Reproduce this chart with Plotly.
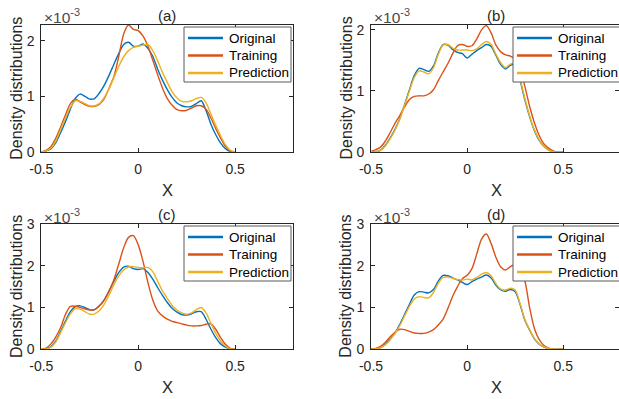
import plotly.graph_objects as go

# ---------------- data (density values in units of 1e-3) ----------------
x_grid = [-0.5, -0.475, -0.45, -0.425, -0.4, -0.375, -0.35, -0.325, -0.3, -0.275,
          -0.25, -0.225, -0.2, -0.175, -0.15, -0.125, -0.1, -0.075, -0.05, -0.025,
          0.0, 0.025, 0.05, 0.075, 0.1, 0.125, 0.15, 0.175, 0.2, 0.225,
          0.25, 0.275, 0.3, 0.325, 0.35, 0.375, 0.4, 0.425, 0.45, 0.475, 0.5]

series_names = ["Original", "Training", "Prediction"]
panel_titles = ["(a)", "(b)", "(c)", "(d)"]

a_original = [0, 0.02, 0.06, 0.17, 0.35, 0.55, 0.77, 0.96, 1.04, 1.00,
              0.95, 0.96, 1.06, 1.20, 1.38, 1.58, 1.77, 1.93, 1.97, 1.90,
              1.90, 1.94, 1.86, 1.72, 1.49, 1.29, 1.12, 0.98, 0.88, 0.83,
              0.81, 0.82, 0.87, 0.92, 0.74, 0.50, 0.31, 0.16, 0.06, 0.01, 0]
a_training = [0, 0.03, 0.10, 0.25, 0.45, 0.67, 0.87, 0.95, 0.90, 0.85,
              0.82, 0.82, 0.86, 0.96, 1.15, 1.36, 1.72, 2.12, 2.28, 2.20,
              2.18, 2.08, 1.90, 1.65, 1.39, 1.15, 0.96, 0.84, 0.76, 0.74,
              0.75, 0.79, 0.83, 0.83, 0.77, 0.61, 0.42, 0.25, 0.10, 0.02, 0]
a_prediction = [0, 0.02, 0.07, 0.20, 0.40, 0.61, 0.80, 0.92, 0.91, 0.87,
                0.83, 0.83, 0.87, 0.98, 1.14, 1.34, 1.54, 1.71, 1.82, 1.88,
                1.90, 1.92, 1.93, 1.82, 1.64, 1.43, 1.25, 1.08, 0.97, 0.91,
                0.90, 0.92, 0.96, 0.98, 0.88, 0.68, 0.48, 0.29, 0.13, 0.03, 0]

b_original = [0, 0.005, 0.03, 0.11, 0.23, 0.37, 0.55, 0.78, 1.02, 1.25,
              1.37, 1.35, 1.32, 1.41, 1.62, 1.76, 1.75, 1.68, 1.63, 1.61,
              1.54, 1.60, 1.66, 1.71, 1.76, 1.73, 1.58, 1.43, 1.36, 1.42,
              1.43, 1.18, 0.86, 0.58, 0.35, 0.19, 0.09, 0.03, 0.005, 0, 0]
b_training = [0.01, 0.04, 0.08, 0.18, 0.32, 0.47, 0.60, 0.74, 0.86, 0.91,
              0.92, 0.92, 0.95, 1.02, 1.17, 1.31, 1.45, 1.61, 1.74, 1.76,
              1.73, 1.74, 1.85, 2.00, 2.07, 1.95, 1.75, 1.64, 1.59, 1.57,
              1.52, 1.35, 1.08, 0.75, 0.48, 0.27, 0.13, 0.06, 0.015, 0, 0]
b_prediction = [0, 0.005, 0.03, 0.10, 0.22, 0.36, 0.54, 0.77, 1.00, 1.22,
                1.33, 1.31, 1.28, 1.38, 1.60, 1.75, 1.76, 1.70, 1.67, 1.67,
                1.67, 1.66, 1.69, 1.76, 1.81, 1.76, 1.60, 1.46, 1.38, 1.44,
                1.45, 1.20, 0.88, 0.59, 0.36, 0.20, 0.09, 0.03, 0.005, 0, 0]

c_original = [0, 0.01, 0.06, 0.20, 0.43, 0.68, 0.90, 1.02, 1.04, 1.00,
              0.95, 0.95, 1.04, 1.19, 1.40, 1.63, 1.84, 1.97, 1.99, 1.93,
              1.91, 1.93, 1.84, 1.68, 1.48, 1.29, 1.12, 0.98, 0.89, 0.83,
              0.82, 0.85, 0.90, 0.90, 0.72, 0.48, 0.28, 0.13, 0.05, 0.01, 0]
c_training = [0, 0.03, 0.13, 0.30, 0.52, 0.84, 1.03, 1.03, 1.00, 0.97,
              0.94, 0.95, 1.04, 1.18, 1.40, 1.67, 2.05, 2.43, 2.68, 2.72,
              2.50, 2.10, 1.60, 1.18, 0.92, 0.80, 0.72, 0.67, 0.64, 0.61,
              0.58, 0.56, 0.56, 0.57, 0.60, 0.61, 0.48, 0.28, 0.12, 0.02, 0]
c_prediction = [0, 0.01, 0.05, 0.18, 0.40, 0.64, 0.85, 0.97, 0.96, 0.90,
                0.84, 0.85, 0.93, 1.08, 1.30, 1.55, 1.76, 1.90, 1.97, 1.98,
                1.96, 1.95, 1.96, 1.86, 1.63, 1.40, 1.22, 1.05, 0.94, 0.87,
                0.84, 0.87, 0.95, 1.00, 0.87, 0.62, 0.38, 0.20, 0.08, 0.01, 0]

d_original = [0, 0.01, 0.04, 0.12, 0.25, 0.39, 0.60, 0.84, 1.08, 1.30,
              1.38, 1.37, 1.35, 1.43, 1.63, 1.77, 1.76, 1.71, 1.66, 1.60,
              1.55, 1.62, 1.68, 1.73, 1.78, 1.71, 1.53, 1.42, 1.39, 1.43,
              1.38, 1.08, 0.70, 0.46, 0.25, 0.12, 0.05, 0.015, 0, 0, 0]
d_training = [0, 0.02, 0.07, 0.17, 0.30, 0.41, 0.48, 0.47, 0.43, 0.39,
              0.38, 0.38, 0.41, 0.47, 0.58, 0.72, 0.98, 1.27, 1.50, 1.69,
              1.77, 1.93, 2.28, 2.64, 2.76, 2.53, 2.20, 1.97, 1.90, 1.98,
              2.03, 1.90, 1.64, 1.00, 0.50, 0.23, 0.09, 0.03, 0, 0, 0]
d_prediction = [0, 0.01, 0.04, 0.11, 0.23, 0.38, 0.57, 0.80, 1.03, 1.20,
                1.26, 1.24, 1.23, 1.36, 1.58, 1.72, 1.73, 1.70, 1.67, 1.66,
                1.68, 1.66, 1.72, 1.80, 1.84, 1.76, 1.57, 1.44, 1.42, 1.46,
                1.42, 1.10, 0.72, 0.47, 0.26, 0.13, 0.06, 0.02, 0, 0, 0]

x_tick_vals = [-0.5, 0, 0.5]
x_tick_text = ["-0.5", "0", "0.5"]
y_max = [2.28, 2.08, 3.0, 3.0]
y_ticks = [[0, 1, 2], [0, 1, 2], [0, 1, 2, 3], [0, 1, 2, 3]]
x_max = [0.8, 0.79, 0.8, 0.79]

panels = [
    (a_original, a_training, a_prediction),
    (b_original, b_training, b_prediction),
    (c_original, c_training, c_prediction),
    (d_original, d_training, d_prediction),
]

# ---------------- styling / layout ----------------
W, H = 619, 399
colors = ["#0072BD", "#D95319", "#EDB120"]
FONT = "Liberation Sans, Arial, Helvetica, sans-serif"
TXT = "#262626"

def px(x):
    return x / W

def py(y):
    return 1 - y / H

# axes boxes in pixels: (left, right, top, bottom)
boxes = [
    (41.3, 293.3, 25, 152),
    (371.0, 619.0, 25, 152),
    (41.3, 293.3, 224, 349.3),
    (371.0, 619.0, 224, 349.3),
]
# legend boxes in pixels: (left, top, right, bottom)
legend_boxes = [(184, 27, 291, 82), (513, 27, 622, 82),
                (184, 226, 291, 281), (513, 226, 622, 281)]

fig = go.Figure()
layout = dict(
    width=W, height=H,
    margin=dict(l=0, r=0, t=0, b=0, autoexpand=False),
    paper_bgcolor="white", plot_bgcolor="white",
    font=dict(family=FONT, color=TXT, size=14),
    annotations=[], shapes=[],
    showlegend=False,
)

for i, (vals, box, lb) in enumerate(zip(panels, boxes, legend_boxes)):
    n = "" if i == 0 else str(i + 1)
    xa, ya = "x" + n, "y" + n
    for v, name, col in zip(vals, series_names, colors):
        fig.add_trace(go.Scatter(
            x=x_grid, y=v, mode="lines", name=name,
            line=dict(color=col, width=1.4, shape="spline", smoothing=0.8),
            xaxis=xa, yaxis=ya, hoverinfo="skip"))

    l, r, t, b = box
    axcommon = dict(showgrid=False, zeroline=False, showline=True,
                    linecolor=TXT, linewidth=1, mirror="ticks",
                    ticks="inside", ticklen=4, tickwidth=1, tickcolor=TXT,
                    tickfont=dict(family=FONT, size=14, color=TXT))
    layout["xaxis" + n] = dict(
        axcommon, domain=[px(l), min(px(r), 1.0)], range=[-0.5, x_max[i]],
        tickvals=x_tick_vals, ticktext=x_tick_text, anchor=ya,
        ticklabelstandoff=4)
    layout["yaxis" + n] = dict(
        axcommon, domain=[py(b), py(t)], range=[0, y_max[i]],
        tickvals=y_ticks[i], ticktext=[str(v) for v in y_ticks[i]], anchor=xa,
        ticklabelstandoff=3)

    # legend box (drawn above the curves, like the original)
    ll, lt, lr, lbm = lb
    layout["shapes"].append(dict(
        type="rect", xref="paper", yref="paper", layer="above",
        x0=px(ll), x1=px(lr), y0=py(lbm), y1=py(lt),
        fillcolor="white", line=dict(color="#5a5a5a", width=1)))
    for k, (name, col) in enumerate(zip(series_names, colors)):
        yy = lt + 11 + k * 17.5
        layout["shapes"].append(dict(
            type="line", xref="paper", yref="paper", layer="above",
            x0=px(ll + 4), x1=px(ll + 39), y0=py(yy), y1=py(yy),
            line=dict(color=col, width=2.5)))
        layout["annotations"].append(dict(
            text=name, x=px(ll + 43), y=py(yy), xref="paper", yref="paper",
            showarrow=False, xanchor="left", yanchor="middle",
            font=dict(family=FONT, size=13.5, color="#000000")))

    cx = (l + r) / 2 if i in (0, 2) else (l + 621) / 2
    anns = layout["annotations"]
    anns.append(dict(text=panel_titles[i], x=px(cx), y=py(t - 9.5),
                     xref="paper", yref="paper", showarrow=False,
                     xanchor="center", yanchor="middle",
                     font=dict(family=FONT, size=15, color=TXT)))
    anns.append(dict(text="×10<sup>-3</sup>", x=px(l + 1), y=py(t - 8.5),
                     xref="paper", yref="paper", showarrow=False,
                     xanchor="left", yanchor="middle",
                     font=dict(family=FONT, size=15.5, color="#4a4a4a")))
    anns.append(dict(text="X", x=px(cx), y=py(b + 38),
                     xref="paper", yref="paper", showarrow=False,
                     xanchor="center", yanchor="middle",
                     font=dict(family=FONT, size=16.5, color=TXT)))
    anns.append(dict(text="Density distributions", x=px(l - 25),
                     y=py((t + b) / 2), xref="paper", yref="paper",
                     showarrow=False, textangle=-90,
                     xanchor="center", yanchor="middle",
                     font=dict(family=FONT, size=16, color=TXT)))

fig.update_layout(**layout)
fig.write_html("out.html")
